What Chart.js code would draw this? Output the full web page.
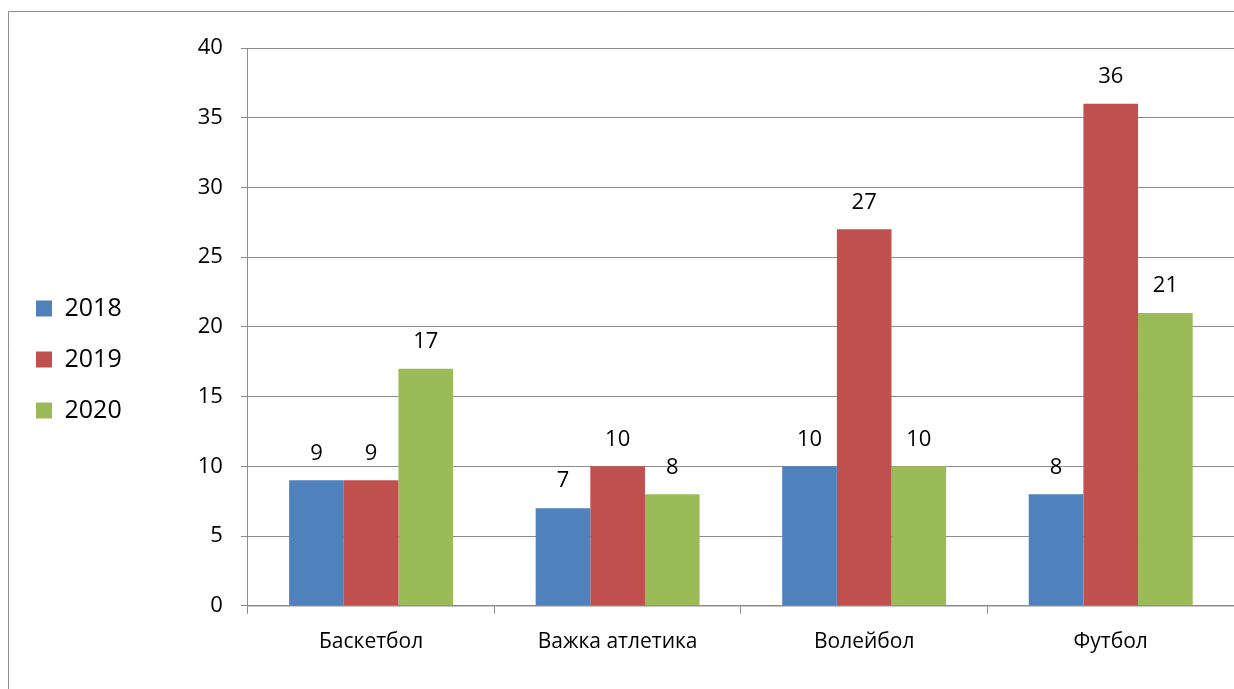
<!DOCTYPE html>
<html>
<head>
<meta charset="utf-8">
<script src="https://cdn.jsdelivr.net/npm/chart.js@4"></script>
<style>
  html, body { margin: 0; padding: 0; background: #fff; overflow: hidden; }
</style>
</head>
<body>
<canvas id="chart" width="1234" height="689"></canvas>
<script>
// chart values
const categories = ["Баскетбол", "Важка атлетика", "Волейбол", "Футбол"];
const years = ["2018", "2019", "2020"];
const values2018 = [9, 7, 10, 8];
const values2019 = [9, 10, 27, 36];
const values2020 = [17, 8, 10, 21];
const yTicks = [0, 5, 10, 15, 20, 25, 30, 35, 40];

const colors = ["#4F81BD", "#C0504D", "#9BBB59"];
const font = "'Open Sans', 'Noto Sans', sans-serif";

// outer frame of the chart (only left and top edges are visible)
const frame = {
  id: "frame",
  beforeDraw(chart) {
    const ctx = chart.ctx;
    ctx.save();
    ctx.strokeStyle = "#8c8c8c";
    ctx.lineWidth = 1;
    ctx.beginPath();
    ctx.moveTo(8.5, chart.height);
    ctx.lineTo(8.5, 11.5);
    ctx.lineTo(chart.width, 11.5);
    ctx.stroke();
    ctx.restore();
  },
};

// numbers over each bar
const barLabels = {
  id: "barLabels",
  afterDatasetsDraw(chart) {
    const ctx = chart.ctx;
    ctx.save();
    ctx.font = "22px " + font;
    ctx.fillStyle = "#000";
    ctx.textAlign = "center";
    ctx.textBaseline = "middle";
    chart.data.datasets.forEach((ds, i) => {
      chart.getDatasetMeta(i).data.forEach((bar, j) => {
        ctx.fillText(ds.data[j], bar.x, bar.y - 27);
      });
    });
    ctx.restore();
  },
};

new Chart(document.getElementById("chart"), {
  type: "bar",
  data: {
    labels: categories,
    datasets: [values2018, values2019, values2020].map((d, i) => ({
      label: years[i],
      data: d,
      backgroundColor: colors[i],
      borderWidth: 0,
      barPercentage: 1,
      categoryPercentage: 0.665,
    })),
  },
  options: {
    responsive: false,
    animation: false,
    layout: { padding: { left: 10, top: 48, right: 0, bottom: 18 } },
    plugins: {
      tooltip: { enabled: false },
      legend: {
        position: "left",
        labels: {
          boxWidth: 16,
          boxHeight: 16,
          padding: 26,
          color: "#000",
          font: { family: font, size: 25 },
        },
      },
    },
    scales: {
      x: {
        grid: {
          offset: true,
          drawOnChartArea: false,
          color: "#8c8c8c",
          tickLength: 8,
        },
        border: { color: "#8c8c8c", width: 1.5 },
        ticks: { color: "#000", padding: 16, font: { family: font, size: 21 } },
      },
      y: {
        min: 0,
        max: 40,
        afterBuildTicks(axis) {
          axis.ticks = yTicks.map((v) => ({ value: v }));
        },
        afterFit(axis) {
          axis.width += 48;
        },
        grid: { color: "#8c8c8c", tickLength: 7 },
        border: { color: "#8c8c8c" },
        ticks: { color: "#000", padding: 18, font: { family: font, size: 22 } },
      },
    },
  },
  plugins: [frame, barLabels],
});
</script>
</body>
</html>
